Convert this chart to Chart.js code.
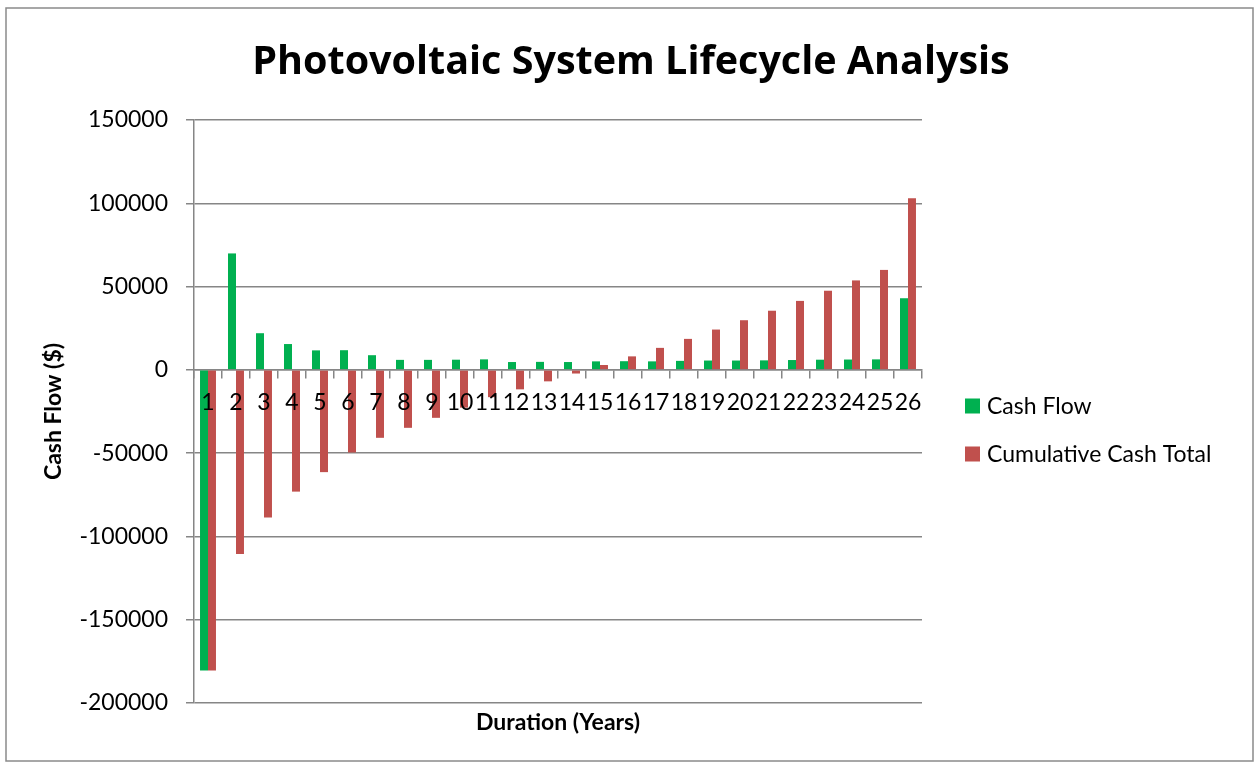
<!DOCTYPE html>
<html>
<head>
<meta charset="utf-8">
<script src="https://cdn.jsdelivr.net/npm/chart.js@4/dist/chart.umd.min.js"></script>
<style>
  html, body { margin: 0; padding: 0; background: #ffffff; }
  #wrap { position: relative; width: 1255px; height: 765px; }
</style>
</head>
<body>
<div id="wrap"><canvas id="chart" width="1255" height="765"></canvas></div>
<script>
// Year index along the horizontal axis
const years = ['1','2','3','4','5','6','7','8','9','10','11','12','13','14','15','16','17','18','19','20','21','22','23','24','25','26'];

// Net cash flow for each year ($)
const cashFlow = [-180500, 69900, 22000, 15500, 11700, 11800, 8800, 6000, 6000, 6100,
                  6300, 4700, 4800, 4700, 5100, 5200, 5100, 5400, 5600, 5600,
                  5700, 5900, 6100, 6200, 6300, 43000];

// Running cash total at the end of each year ($)
const cumulativeCash = [-180500, -110600, -88600, -73100, -61400, -49600, -40800, -34800, -28800, -22700,
                        -16400, -11700, -6900, -2200, 2900, 8100, 13200, 18600, 24200, 29800,
                        35500, 41400, 47500, 53700, 60000, 103000];

// Value axis ticks
const yTicks = [-200000, -150000, -100000, -50000, 0, 50000, 100000, 150000];

const chartTitle = 'Photovoltaic System Lifecycle Analysis';

const GRID = '#868686';
const FONT = 'Lato';

// Outer frame and the heading, centred across the full width
const framePlugin = {
  id: 'frame',
  beforeDraw(chart) {
    const ctx = chart.ctx;
    ctx.save();
    ctx.fillStyle = '#ffffff';
    ctx.fillRect(0, 0, chart.width, chart.height);
    ctx.strokeStyle = '#8a8a8a';
    ctx.lineWidth = 1.5;
    ctx.strokeRect(6, 8, 1247, 753);
    ctx.fillStyle = '#000000';
    ctx.font = 'bold 39.5px "Open Sans"';
    ctx.textAlign = 'center';
    ctx.textBaseline = 'alphabetic';
    ctx.fillText(chartTitle, 631, 74);
    ctx.restore();
  }
};

// Legend drawn to the right of the plot area
const sideLegend = {
  id: 'sideLegend',
  afterDraw(chart) {
    const ctx = chart.ctx;
    ctx.save();
    ctx.font = '23px ' + FONT;
    ctx.textBaseline = 'middle';
    ctx.textAlign = 'left';
    chart.data.datasets.forEach((ds, i) => {
      const cy = 406 + i * 48;
      ctx.fillStyle = ds.backgroundColor;
      ctx.fillRect(965, cy - 7.5, 15, 15);
      ctx.fillStyle = '#000000';
      ctx.fillText(ds.label, 987, cy + 1);
    });
    ctx.restore();
  }
};

new Chart(document.getElementById('chart'), {
  type: 'bar',
  data: {
    labels: years,
    datasets: [
      { label: 'Cash Flow', data: cashFlow, backgroundColor: '#00B050', borderWidth: 0 },
      { label: 'Cumulative Cash Total', data: cumulativeCash, backgroundColor: '#C0504D', borderWidth: 0 }
    ]
  },
  options: {
    responsive: false,
    animation: false,
    devicePixelRatio: 1,
    layout: { padding: { left: 30, right: 333, top: 120, bottom: 28.4 } },
    datasets: { bar: { categoryPercentage: 0.57, barPercentage: 1.0 } },
    plugins: {
      legend: { display: false },
      tooltip: { enabled: false },
      title: { display: false }
    },
    scales: {
      x: {
        type: 'category',
        position: { y: 0 },
        offset: true,
        grid: { display: true, drawOnChartArea: false, drawTicks: true, tickLength: 8, color: GRID, lineWidth: 1.5, offset: true },
        border: { display: true, color: GRID, width: 1.5 },
        ticks: { color: '#000000', font: { family: FONT, size: 23 }, autoSkip: false, maxRotation: 0, minRotation: 0, padding: 11, z: 1 }
      },
      xTitle: {
        type: 'category',
        labels: years,
        position: 'bottom',
        grid: { display: false, drawTicks: false },
        border: { display: false },
        ticks: { display: false },
        title: {
          display: true,
          text: 'Duration (Years)',
          color: '#000000',
          font: { family: FONT, size: 23, weight: 'bold' },
          padding: { top: 6, bottom: 0 }
        }
      },
      y: {
        min: -200000,
        max: 150000,
        afterBuildTicks(scale) { scale.ticks = yTicks.map(v => ({ value: v })); },
        afterFit(scale) { scale.width = 164; },
        grid: { color: GRID, lineWidth: 1.5, tickLength: 8, drawTicks: true },
        border: { display: true, color: GRID, width: 1.5 },
        ticks: {
          color: '#000000',
          font: { family: FONT, size: 23 },
          padding: 18,
          callback: (v) => String(v)
        },
        title: {
          display: true,
          text: 'Cash Flow ($)',
          color: '#000000',
          font: { family: FONT, size: 23, weight: 'bold' },
          padding: { top: 10, bottom: 10 }
        }
      }
    }
  },
  plugins: [framePlugin, sideLegend]
});
</script>
</body>
</html>
